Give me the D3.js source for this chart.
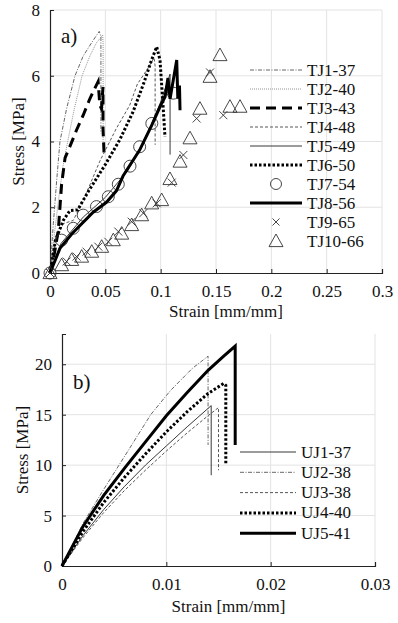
<!DOCTYPE html>
<html>
<head>
<meta charset="utf-8">
<script src="https://cdn.jsdelivr.net/npm/d3@7"></script>
<style>
  body { margin: 0; background: #fff; }
  .grid line { stroke: #e3e3e3; stroke-width: 1; }
</style>
</head>
<body>
<svg id="chart" width="398" height="623"></svg>
<script>
// ---- panel a) data: [strain, stress] ----
const tj1 = [[0,0],[0.003,1.5],[0.006,2.8],[0.009,4.0],[0.015,5.0],[0.0226,6.0],[0.03,6.6],[0.0375,7.0],[0.0445,7.35],[0.046,7.2],[0.046,4.25]];
const tj2 = [[0,0],[0.004,1.2],[0.008,2.3],[0.012,3.3],[0.016,4.0],[0.022,5.0],[0.029,6.0],[0.036,6.6],[0.042,7.0],[0.0476,7.24],[0.048,7.0],[0.048,4.0]];
const tj3 = [[0,0],[0.004,0.6],[0.0075,1.3],[0.0105,2.7],[0.0136,3.5],[0.018,3.85],[0.024,4.35],[0.03,4.8],[0.036,5.3],[0.0407,5.63],[0.0435,5.82],[0.045,5.1],[0.0465,5.0],[0.0479,5.66],[0.0479,4.4],[0.049,3.5]];
const tj4 = [[0,0],[0.005,1.0],[0.012,1.5],[0.021,1.6],[0.03,2.2],[0.045,3.4],[0.06,4.4],[0.072,5.1],[0.079,5.75],[0.088,6.2],[0.094,6.55],[0.095,6.3],[0.095,3.9]];
const tj5 = [[0,0],[0.01,0.9],[0.03,1.7],[0.05,2.3],[0.06,2.7],[0.07,3.1],[0.08,3.7],[0.09,4.4],[0.1,5.2],[0.104,5.6],[0.1085,6.05],[0.1085,3.6]];
const tj6 = [[0,0],[0.005,1.0],[0.012,1.6],[0.018,1.9],[0.025,1.92],[0.035,2.5],[0.05,3.3],[0.063,4.05],[0.075,4.9],[0.085,5.8],[0.092,6.5],[0.0964,6.88],[0.0994,6.48],[0.1024,4.96],[0.1039,4.14]];
const tj7 = [[0,0],[0.0105,1.0],[0.021,1.36],[0.03,1.76],[0.042,2.02],[0.0527,2.32],[0.0617,2.7],[0.0723,3.25],[0.081,3.84],[0.092,4.55],[0.1114,5.47]];
const tj8 = [[0,0],[0.009,0.75],[0.02,1.2],[0.039,1.85],[0.051,2.15],[0.06,2.5],[0.066,2.95],[0.081,3.74],[0.092,4.5],[0.1,5.1],[0.104,5.36],[0.1066,5.93],[0.1085,5.3],[0.1145,6.48],[0.1155,5.3],[0.117,5.7],[0.1175,4.95]];
const tj9 = [[0,0],[0.015,0.35],[0.024,0.5],[0.033,0.65],[0.0437,0.8],[0.0527,0.95],[0.0617,1.26],[0.0738,1.56],[0.0843,1.82],[0.0964,2.12],[0.11,2.75],[0.1205,3.59],[0.1325,4.7],[0.1446,6.1],[0.1566,4.8]];
const tj10 = [[0,0],[0.0105,0.24],[0.0196,0.4],[0.0286,0.5],[0.0377,0.65],[0.0467,0.8],[0.0572,1.0],[0.0648,1.2],[0.0738,1.46],[0.0828,1.76],[0.0919,2.12],[0.1009,2.22],[0.1084,2.86],[0.1175,3.39],[0.1265,4.1],[0.1355,5.0],[0.1446,5.97],[0.1536,6.63],[0.1626,5.06],[0.1717,5.06]];

const xTicksA = [0, 0.05, 0.1, 0.15, 0.2, 0.25, 0.3];
const yTicksA = [0, 2, 4, 6, 8];

// ---- panel b) data ----
const uj1 = [[0,0],[0.002,3.0],[0.004,5.6],[0.006,7.9],[0.008,10.0],[0.010,11.9],[0.012,13.8],[0.0143,15.9],[0.0143,9.0]];
const uj2 = [[0,0],[0.002,4.2],[0.004,7.6],[0.0065,11.7],[0.0085,15.0],[0.0104,17.4],[0.0125,19.6],[0.014,20.8],[0.014,12.0]];
const uj3 = [[0,0],[0.002,2.8],[0.004,5.3],[0.006,7.5],[0.008,9.5],[0.010,11.4],[0.012,13.2],[0.014,14.9],[0.015,15.7],[0.015,9.5]];
const uj4 = [[0,0],[0.002,3.4],[0.004,6.3],[0.006,8.8],[0.008,11.1],[0.010,13.3],[0.012,15.3],[0.014,17.1],[0.0155,18.1],[0.0157,17.9],[0.0157,10.0]];
const uj5 = [[0,0],[0.002,3.9],[0.004,7.0],[0.006,9.7],[0.008,12.3],[0.010,14.9],[0.012,17.2],[0.014,19.4],[0.0155,20.8],[0.0166,21.8],[0.0166,12.0]];

const xTicksB = [0, 0.01, 0.02, 0.03];
const yTicksB = [0, 5, 10, 15, 20];

const svg = d3.select("#chart");
const FONT = "Liberation Serif";

// line styles
const thinDashDot = { stroke: "#555", width: 0.9, dash: "4,1.5,1,1.5" };
const thinDot = { stroke: "#888", width: 0.9, dash: "1,1" };
const thickDash = { stroke: "#000", width: 3, dash: "10,6" };
const thinDash = { stroke: "#444", width: 0.9, dash: "3,2" };
const thinSolid = { stroke: "#222", width: 0.9, dash: null };
const thickDot = { stroke: "#000", width: 3, dash: "2.5,2" };
const thickSolid = { stroke: "#000", width: 3, dash: null };

function drawPanel(opt) {
  const x = d3.scaleLinear().domain(opt.xDomain).range([opt.left, opt.right]);
  const y = d3.scaleLinear().domain(opt.yDomain).range([opt.bottom, opt.top]);
  const g = svg.append("g");

  // grid
  const grid = g.append("g").attr("class", "grid");
  grid.selectAll(".gx").data(opt.xTicks.slice(1)).join("line")
    .attr("x1", d => x(d)).attr("x2", d => x(d))
    .attr("y1", opt.top).attr("y2", opt.bottom);
  grid.selectAll(".gy").data(opt.yTicks.slice(1)).join("line")
    .attr("x1", opt.left).attr("x2", opt.right)
    .attr("y1", d => y(d)).attr("y2", d => y(d));

  // axes (ticks pointing inward)
  const xAxis = g.append("g")
    .attr("transform", `translate(0,${opt.bottom})`)
    .call(d3.axisBottom(x).tickValues(opt.xTicks).tickSize(-4).tickPadding(12).tickFormat(d => d));
  const yAxis = g.append("g")
    .attr("transform", `translate(${opt.left},0)`)
    .call(d3.axisLeft(y).tickValues(opt.yTicks).tickSize(-4).tickPadding(10).tickFormat(d => d));
  [xAxis, yAxis].forEach(a => {
    a.attr("font-family", FONT).attr("font-size", 17);
    a.select(".domain").attr("stroke", "#222").attr("stroke-width", 1.2);
    a.selectAll(".tick line").attr("stroke", "#222");
    a.selectAll("text").attr("fill", "#111");
  });

  // axis titles
  g.append("text").attr("x", (opt.left + opt.right) / 2 + 10).attr("y", opt.xTitleY)
    .attr("text-anchor", "middle").attr("font-size", 17).attr("fill", "#111")
    .attr("font-family", FONT)
    .text("Strain [mm/mm]");
  g.append("text")
    .attr("transform", `translate(${opt.yTitleX},${(opt.top + opt.bottom) / 2}) rotate(-90)`)
    .attr("text-anchor", "middle").attr("font-size", 17).attr("fill", "#111")
    .attr("font-family", FONT)
    .text("Stress [MPa]");

  g.append("text").attr("x", opt.left + 11).attr("y", opt.labelY)
    .attr("font-size", 21).attr("fill", "#111").attr("font-family", FONT).text(opt.label);

  const line = d3.line().x(d => x(d[0])).y(d => y(d[1]));

  opt.series.forEach(s => {
    if (s.style) {
      g.append("path").datum(s.data)
        .attr("d", line).attr("fill", "none")
        .attr("stroke", s.style.stroke).attr("stroke-width", s.style.width)
        .attr("stroke-dasharray", s.style.dash)
        .attr("stroke-linejoin", "miter");
    }
    if (s.marker) {
      g.selectAll(null).data(s.data).join("path")
        .attr("transform", d => `translate(${x(d[0])},${y(d[1])})`)
        .attr("d", markerPath(s.marker))
        .attr("fill", "none").attr("stroke", "#333").attr("stroke-width", 0.9);
    }
  });

  // legend
  const lg = g.append("g");
  opt.series.forEach((s, i) => {
    const ly = opt.legendY + i * opt.legendStep;
    if (s.style) {
      lg.append("line")
        .attr("x1", opt.legendX1).attr("x2", opt.legendX2)
        .attr("y1", ly).attr("y2", ly)
        .attr("stroke", s.style.stroke).attr("stroke-width", s.style.width)
        .attr("stroke-dasharray", s.style.dash);
    }
    if (s.marker) {
      lg.append("path")
        .attr("transform", `translate(${(opt.legendX1 + opt.legendX2) / 2},${ly})`)
        .attr("d", markerPath(s.marker, true))
        .attr("fill", "none").attr("stroke", "#333").attr("stroke-width", 0.9);
    }
    lg.append("text").attr("x", opt.legendX2 + 5).attr("y", ly + 5.5)
      .attr("font-size", 17).attr("fill", "#111").attr("font-family", FONT).text(s.name);
  });
}

function markerPath(type, small) {
  const p = d3.path();
  if (type === "circle") {
    const r = small ? 5.5 : 6;
    p.moveTo(r, 0); p.arc(0, 0, r, 0, 2 * Math.PI);
  } else if (type === "x") {
    const r = small ? 3.5 : 4;
    p.moveTo(-r, -r); p.lineTo(r, r); p.moveTo(-r, r); p.lineTo(r, -r);
  } else if (type === "tri") {
    const r = 7;
    p.moveTo(0, -r); p.lineTo(r, r * 0.8); p.lineTo(-r, r * 0.8); p.closePath();
  }
  return p.toString();
}

drawPanel({
  xDomain: [0, 0.3], yDomain: [0, 8],
  left: 50, right: 382, top: 10, bottom: 273,
  xTicks: xTicksA, yTicks: yTicksA,
  xTitleY: 317, yTitleX: 24,
  label: "a)", labelY: 43,
  legendX1: 250, legendX2: 302, legendY: 70, legendStep: 19,
  series: [
    { name: "TJ1-37", data: tj1, style: thinDashDot },
    { name: "TJ2-40", data: tj2, style: thinDot },
    { name: "TJ3-43", data: tj3, style: thickDash },
    { name: "TJ4-48", data: tj4, style: thinDash },
    { name: "TJ5-49", data: tj5, style: thinSolid },
    { name: "TJ6-50", data: tj6, style: thickDot },
    { name: "TJ7-54", data: tj7, marker: "circle" },
    { name: "TJ8-56", data: tj8, style: thickSolid },
    { name: "TJ9-65", data: tj9, marker: "x" },
    { name: "TJ10-66", data: tj10, marker: "tri" }
  ]
});

drawPanel({
  xDomain: [0, 0.03], yDomain: [0, 23],
  left: 62, right: 375, top: 334, bottom: 566,
  xTicks: xTicksB, yTicks: yTicksB,
  xTitleY: 612, yTitleX: 28,
  label: "b)", labelY: 389,
  legendX1: 240, legendX2: 296, legendY: 452, legendStep: 20.3,
  series: [
    { name: "UJ1-37", data: uj1, style: thinSolid },
    { name: "UJ2-38", data: uj2, style: thinDashDot },
    { name: "UJ3-38", data: uj3, style: thinDash },
    { name: "UJ4-40", data: uj4, style: thickDot },
    { name: "UJ5-41", data: uj5, style: thickSolid }
  ]
});
</script>
</body>
</html>
